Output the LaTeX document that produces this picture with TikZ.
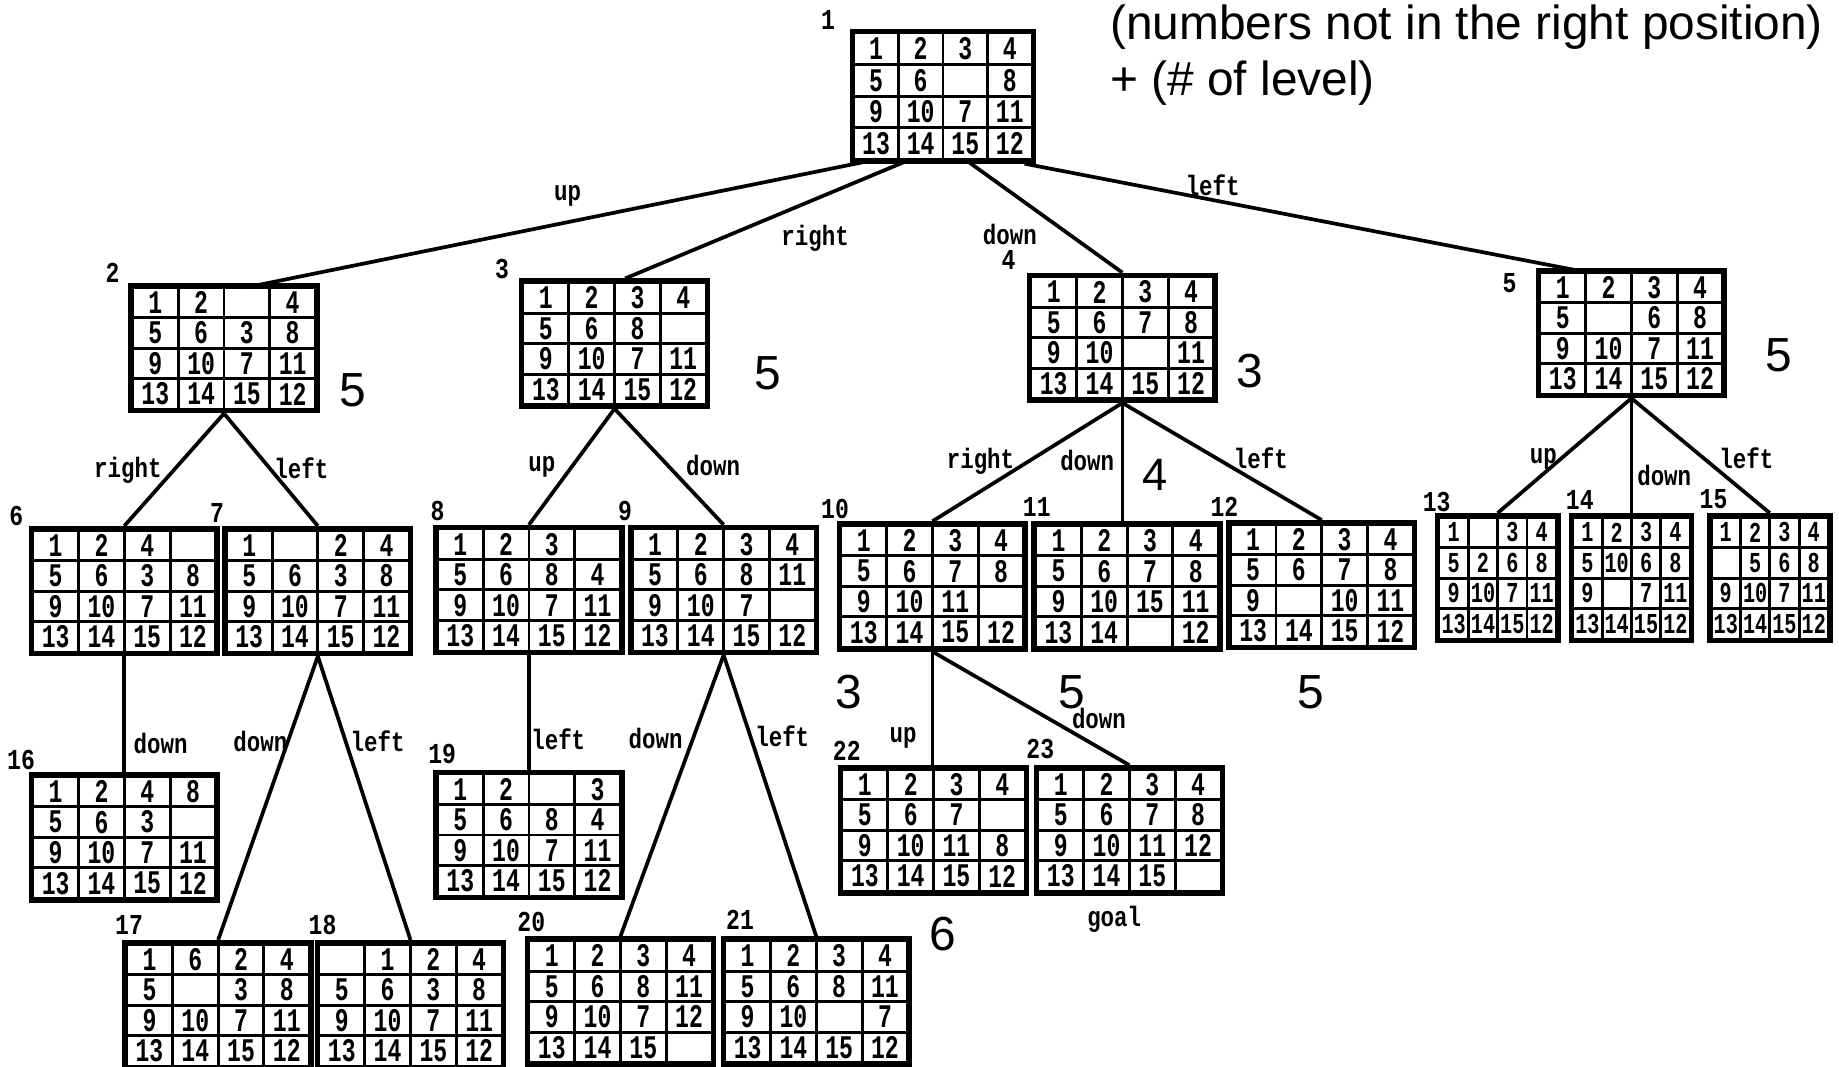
\documentclass[tikz,border=0pt]{standalone}
\usepackage{fontspec}
\setmainfont{Liberation Sans}
\newfontfamily\tilefont[FakeStretch=0.7]{Liberation Mono}
\newfontfamily\movefont[FakeStretch=0.8]{Liberation Mono}
\usetikzlibrary{matrix, calc}

\tikzset{
    % Puzzle boards
    tilebox/.style={draw, line width=0.7pt, minimum width=0.39cm, minimum height=0.26cm,
                anchor=center, inner sep=0pt, outer sep=0pt,
                font=\tilefont\bfseries\fontsize{8}{8}\selectfont},
    boardmat/.style={matrix of nodes, nodes in empty cells, draw, line width=1.3pt,
                inner sep=0pt, column sep=-0.7pt, row sep=-0.7pt, nodes={tilebox}},
    topboard/.style={boardmat, nodes={minimum width=0.38cm, minimum height=0.27cm}},
    narrowboard/.style={boardmat, nodes={minimum width=0.25cm,
                font=\tilefont\bfseries\fontsize{7}{7}\selectfont}},
    % Labels
    idxlbl/.style={font=\movefont\bfseries\fontsize{7}{7}\selectfont},
    movelbl/.style={font=\movefont\bfseries\fontsize{6.8}{7}\selectfont},
    costlbl/.style={font=\fontsize{11.6}{13.7}\selectfont},
    handlbl/.style={font=\fontsize{11}{11}\selectfont},
    % Tree lines
    treeline/.style={line width=0.9pt, black},
}

\begin{document}
\begin{tikzpicture}[x=0.01cm, y=-0.01cm]
\useasboundingbox (0,0) rectangle (1568,909);

% level 0
\matrix[topboard] (b1) at (804,82) {
 1 & 2 & 3 & 4 \\
 5 & 6 &   & 8 \\
 9 & 10 & 7 & 11 \\
 13 & 14 & 15 & 12 \\
};
\node[idxlbl] (n1) at (706,17) {1};
\node[costlbl, anchor=north west, align=left, inner sep=0pt] (note) at (946,3)
    {(numbers not in the right position)\\+ (\# of level)};

% level 1
\matrix[boardmat] (b2) at (191,297) {
 1 & 2 &   & 4 \\
 5 & 6 & 3 & 8 \\
 9 & 10 & 7 & 11 \\
 13 & 14 & 15 & 12 \\
};
\matrix[boardmat] (b3) at (524,293) {
 1 & 2 & 3 & 4 \\
 5 & 6 & 8 &   \\
 9 & 10 & 7 & 11 \\
 13 & 14 & 15 & 12 \\
};
\matrix[boardmat] (b4) at (957,288) {
 1 & 2 & 3 & 4 \\
 5 & 6 & 7 & 8 \\
 9 & 10 &   & 11 \\
 13 & 14 & 15 & 12 \\
};
\matrix[boardmat] (b5) at (1391,284) {
 1 & 2 & 3 & 4 \\
 5 &   & 6 & 8 \\
 9 & 10 & 7 & 11 \\
 13 & 14 & 15 & 12 \\
};
\node[idxlbl] (n2) at (96,233) {2};
\node[idxlbl] (n3) at (428,229) {3};
\node[idxlbl] (n4) at (860,222) {4};
\node[idxlbl] (n5) at (1287,241) {5};

\draw[treeline] (b1-4-1.south) -- (b2-1-3.north);
\draw[treeline] ($(b1-4-2.south)+(-9,0)$) -- ($(b3.north)+(9,0)$);
\draw[treeline] (b1-4-3.south) -- (b4.north);
\draw[treeline] ($(b1.south east)+(-10,0)$) -- (b5-1-2.north west);

\node[movelbl] (m12) at (484,167) {up};
\node[movelbl] (m13) at (695,203) {right};
\node[movelbl] (m14) at (861,200) {down};
\node[movelbl] (m15) at (1034,158) {left};

\node[costlbl] (c2) at (301,333) {5};
\node[costlbl] (c3) at (655,318) {5};
\node[costlbl] (c4) at (1066,316) {3};
\node[costlbl] (c5) at (1517,303) {5};

% level 2
\matrix[boardmat] (b6) at (106,504) {
 1 & 2 & 4 &   \\
 5 & 6 & 3 & 8 \\
 9 & 10 & 7 & 11 \\
 13 & 14 & 15 & 12 \\
};
\matrix[boardmat] (b7) at (271,504) {
 1 &   & 2 & 4 \\
 5 & 6 & 3 & 8 \\
 9 & 10 & 7 & 11 \\
 13 & 14 & 15 & 12 \\
};
\matrix[boardmat] (b8) at (451,503) {
 1 & 2 & 3 &   \\
 5 & 6 & 8 & 4 \\
 9 & 10 & 7 & 11 \\
 13 & 14 & 15 & 12 \\
};
\matrix[boardmat] (b9) at (617,503) {
 1 & 2 & 3 & 4 \\
 5 & 6 & 8 & 11 \\
 9 & 10 & 7 &   \\
 13 & 14 & 15 & 12 \\
};
\matrix[boardmat] (b10) at (795,500) {
 1 & 2 & 3 & 4 \\
 5 & 6 & 7 & 8 \\
 9 & 10 & 11 &   \\
 13 & 14 & 15 & 12 \\
};
\matrix[boardmat] (b11) at (961,500) {
 1 & 2 & 3 & 4 \\
 5 & 6 & 7 & 8 \\
 9 & 10 & 15 & 11 \\
 13 & 14 &   & 12 \\
};
\matrix[boardmat] (b12) at (1127,499) {
 1 & 2 & 3 & 4 \\
 5 & 6 & 7 & 8 \\
 9 &   & 10 & 11 \\
 13 & 14 & 15 & 12 \\
};
\matrix[narrowboard] (b13) at (1277,493) {
 1 &   & 3 & 4 \\
 5 & 2 & 6 & 8 \\
 9 & 10 & 7 & 11 \\
 13 & 14 & 15 & 12 \\
};
\matrix[narrowboard] (b14) at (1391,493) {
 1 & 2 & 3 & 4 \\
 5 & 10 & 6 & 8 \\
 9 &   & 7 & 11 \\
 13 & 14 & 15 & 12 \\
};
\matrix[narrowboard] (b15) at (1509,493) {
 1 & 2 & 3 & 4 \\
   & 5 & 6 & 8 \\
 9 & 10 & 7 & 11 \\
 13 & 14 & 15 & 12 \\
};
\node[idxlbl] (n6) at (14,440) {6};
\node[idxlbl] (n7) at (185,437) {7};
\node[idxlbl] (n8) at (373,436) {8};
\node[idxlbl] (n9) at (533,436) {9};
\node[idxlbl] (n10) at (712,434) {10};
\node[idxlbl] (n11) at (884,432) {11};
\node[idxlbl] (n12) at (1044,432) {12};
\node[idxlbl] (n13) at (1225,428) {13};
\node[idxlbl] (n14) at (1347,426) {14};
\node[idxlbl] (n15) at (1461,426) {15};

\draw[treeline] (b2.south) -- (b6.north);
\draw[treeline] (b2.south) -- (b7.north);
\draw[treeline] (b3.south) -- (b8.north);
\draw[treeline] (b3.south) -- (b9.north);
\draw[treeline] (b4.south) -- (b10.north);
\draw[treeline] (b4.south) -- (b4.south |- b11.north);
\draw[treeline] (b4.south) -- (b12.north);
\draw[treeline] (b5.south) -- (b13.north);
\draw[treeline] (b5.south) -- (b5.south |- b14.north);
\draw[treeline] (b5.south) -- (b15.north);

\node[movelbl] (m26) at (109,401) {right};
\node[movelbl] (m27) at (257,399) {left};
\node[movelbl] (m38) at (462,398) {up};
\node[movelbl] (m39) at (608,397) {down};
\node[movelbl] (m410) at (836,393) {right};
\node[movelbl] (m411) at (927,393) {down};
\node[handlbl] (h411) at (985,405) {4};
\node[movelbl] (m412) at (1075,391) {left};
\node[movelbl] (m513) at (1316,391) {up};
\node[movelbl] (m514) at (1419,405) {down};
\node[movelbl] (m515) at (1489,391) {left};

\node[costlbl] (c10) at (724,590) {3};
\node[costlbl] (c11) at (914,590) {5};
\node[costlbl] (c12) at (1118,590) {5};

% level 3
\matrix[boardmat] (b16) at (106,714) {
 1 & 2 & 4 & 8 \\
 5 & 6 & 3 &   \\
 9 & 10 & 7 & 11 \\
 13 & 14 & 15 & 12 \\
};
\matrix[boardmat] (b19) at (451,712) {
 1 & 2 &   & 3 \\
 5 & 6 & 8 & 4 \\
 9 & 10 & 7 & 11 \\
 13 & 14 & 15 & 12 \\
};
\matrix[boardmat] (b22) at (796,708) {
 1 & 2 & 3 & 4 \\
 5 & 6 & 7 &   \\
 9 & 10 & 11 & 8 \\
 13 & 14 & 15 & 12 \\
};
\matrix[boardmat] (b23) at (963,708) {
 1 & 2 & 3 & 4 \\
 5 & 6 & 7 & 8 \\
 9 & 10 & 11 & 12 \\
 13 & 14 & 15 &   \\
};
\node[idxlbl] (n16) at (18,648) {16};
\node[idxlbl] (n19) at (377,643) {19};
\node[idxlbl] (n22) at (722,640) {22};
\node[idxlbl] (n23) at (887,639) {23};
\node[movelbl] (goal) at (950,784) {goal};

% level 4
\matrix[boardmat] (b17) at (186,857) {
 1 & 6 & 2 & 4 \\
 5 &   & 3 & 8 \\
 9 & 10 & 7 & 11 \\
 13 & 14 & 15 & 12 \\
};
\matrix[boardmat] (b18) at (350,857) {
   & 1 & 2 & 4 \\
 5 & 6 & 3 & 8 \\
 9 & 10 & 7 & 11 \\
 13 & 14 & 15 & 12 \\
};
\matrix[boardmat] (b20) at (529,854) {
 1 & 2 & 3 & 4 \\
 5 & 6 & 8 & 11 \\
 9 & 10 & 7 & 12 \\
 13 & 14 & 15 &   \\
};
\matrix[boardmat] (b21) at (696,854) {
 1 & 2 & 3 & 4 \\
 5 & 6 & 8 & 11 \\
 9 & 10 &   & 7 \\
 13 & 14 & 15 & 12 \\
};
\node[idxlbl] (n17) at (110,789) {17};
\node[idxlbl] (n18) at (275,789) {18};
\node[idxlbl] (n20) at (453,786) {20};
\node[idxlbl] (n21) at (631,784) {21};

\draw[treeline] (b6.south) -- (b16.north);
\draw[treeline] (b7.south) -- (b17.north);
\draw[treeline] (b7.south) -- (b18.north);
\draw[treeline] (b8.south) -- (b19.north);
\draw[treeline] (b9.south) -- (b20.north);
\draw[treeline] (b9.south) -- (b21.north);
\draw[treeline] (b10.south) -- (b10.south |- b22.north);
\draw[treeline] (b10.south) -- (b23.north);

\node[movelbl] (m616) at (137,634) {down};
\node[movelbl] (m717) at (222,632) {down};
\node[movelbl] (m718) at (322,632) {left};
\node[movelbl] (m819) at (476,630) {left};
\node[movelbl] (m920) at (559,630) {down};
\node[movelbl] (m921) at (667,628) {left};
\node[movelbl] (m1022) at (770,629) {up};
\node[movelbl] (m1023) at (937,613) {down};

\node[costlbl] (c22) at (804,796) {6};
\end{tikzpicture}
\end{document}
